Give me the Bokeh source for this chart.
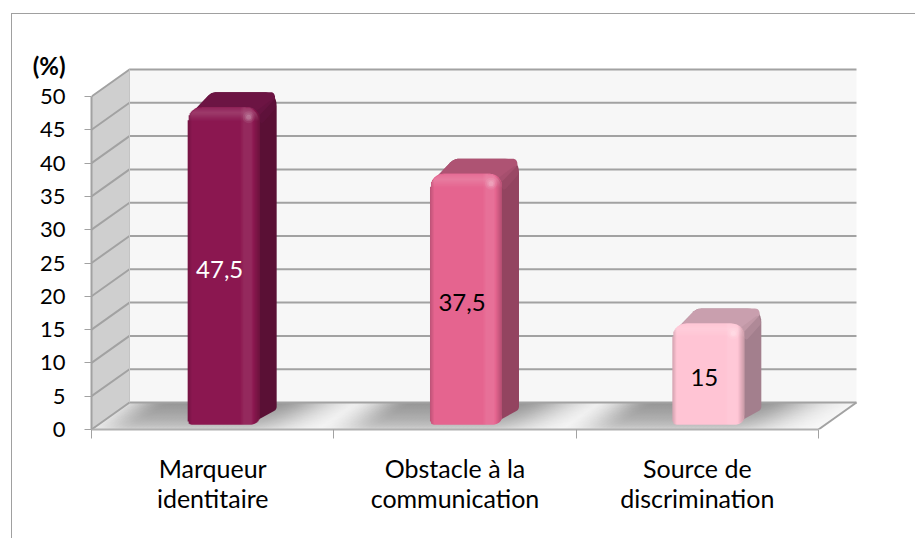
import math

from bokeh.core.properties import value
from bokeh.embed import file_html
from bokeh.models import FixedTicker, InlineStyleSheet, LinearAxis, Range1d
from bokeh.plotting import figure
from bokeh.resources import INLINE

# Survey shares per category
categories = ["Marqueur\nidentitaire", "Obstacle à la\ncommunication", "Source de\ndiscrimination"]
values = [47.5, 37.5, 15]
front_colors = ["#8c1850", "#e56490", "#ffc4d4"]
side_colors = ["#5a1035", "#934460", "#a37f8d"]
top_colors = ["#6c1443", "#ae5373", "#c99fae"]
label_colors = ["#ffffff", "#000000", "#000000"]
y_ticks = [0, 5, 10, 15, 20, 25, 30, 35, 40, 45, 50]
unit_caption = "(%)"

# Scale of the two axes and the pseudo-3D projection, in pixels
WIDTH, HEIGHT = 915, 538
LEFT, BASE = 91, 429
PX_X, PX_Y = 242.33, 6.66
DEPTH_X, DEPTH_Y = 38, 27
BAR_W = 72
FRONT_X, FRONT_Y = 11, 5
BACK_X, BACK_Y = 28, 20
FONT = "Lato"
GRID = "#a2a2a2"


def ox(px):
    return px / PX_X


def oy(px):
    return px / PX_Y


def hex_rgb(c):
    return tuple(int(c[i:i + 2], 16) for i in (1, 3, 5))


def shade(c, f):
    """Darken (f < 1) or lighten (f > 1) a hex colour."""
    r = hex_rgb(c)
    if f <= 1:
        out = [v * f for v in r]
    else:
        out = [v + (255 - v) * (f - 1) for v in r]
    return "#%02x%02x%02x" % tuple(int(round(v)) for v in out)


def rounded(points, radii):
    """Outline of a polygon in pixel offsets whose corners are rounded."""
    xs, ys = [], []
    n = len(points)
    for i, (px, py) in enumerate(points):
        ax, ay = points[i - 1]
        bx, by = points[(i + 1) % n]
        la, lb = math.hypot(ax - px, ay - py), math.hypot(bx - px, by - py)
        r = min(radii[i], la / 2, lb / 2)
        if r <= 0:
            xs.append(px)
            ys.append(py)
            continue
        s = (px + (ax - px) * r / la, py + (ay - py) * r / la)
        e = (px + (bx - px) * r / lb, py + (by - py) * r / lb)
        for k in range(9):
            t = k / 8
            xs.append((1 - t) ** 2 * s[0] + 2 * t * (1 - t) * px + t * t * e[0])
            ys.append((1 - t) ** 2 * s[1] + 2 * t * (1 - t) * py + t * t * e[1])
    return xs, ys


# Chart frame along the top and left, running off the page on the other two sides
frame_css = InlineStyleSheet(css=""":host::after { content: ""; position: absolute; left: 11px; top: 13px;
    right: 0; bottom: 0; border-left: 1.5px solid #a0a0a0; border-top: 1.5px solid #a0a0a0; pointer-events: none; }""")

p = figure(
    width=WIDTH, height=HEIGHT, output_backend="svg", toolbar_location=None,
    x_range=Range1d(0, ox(WIDTH - LEFT)), y_range=Range1d(0, oy(BASE)),
    min_border_left=LEFT, min_border_right=0, min_border_top=0, min_border_bottom=HEIGHT - BASE,
    x_axis_type=None, y_axis_type=None, outline_line_color=None, background_fill_color="#ffffff",
    stylesheets=[frame_css],
)
p.grid.visible = False

span_x = len(categories)
dx, dy = ox(DEPTH_X), oy(DEPTH_Y)

# Back wall, side wall and floor
p.quad(left=dx, right=span_x + dx, bottom=dy, top=y_ticks[-1] + dy, fill_color="#f7f7f7", line_color=None)
p.patch([0, dx, dx, 0], [0, dy, y_ticks[-1] + dy, y_ticks[-1]], fill_color="#cfcfcf", line_color=None)

# Soft shadows cast on the floor around the bars
rows, cells = 27, 182
sh_l, sh_r, sh_t, sh_b, sh_c = [], [], [], [], []
for r in range(rows):
    lift = r + 0.5
    for c in range(cells):
        u = c * 4 + 2
        strength = 0
        for i in range(len(categories)):
            centre = (i + 0.5) * PX_X
            if u < centre - 80:
                s = math.exp(-((centre - 80 - u) / 38) ** 2)
            elif u > centre + 25:
                s = math.exp(-((u - centre - 25) / 55) ** 2)
            else:
                s = 1
            strength = max(strength, s)
        strength *= 0.3 + 0.7 * (lift / rows) ** 0.5
        g = int(round(250 - 100 * strength))
        skew = lift * DEPTH_X / DEPTH_Y
        sh_l.append(ox(c * 4 + skew))
        sh_r.append(ox(c * 4 + 5.01 + skew))
        sh_b.append(oy(r))
        sh_t.append(oy(min(r + 2.01, rows)))
        sh_c.append("#%02x%02x%02x" % (g, g, g))
p.quad(left=sh_l, right=sh_r, top=sh_t, bottom=sh_b, fill_color=sh_c, line_color=None)
# The ends of the floor stay outside the parallelogram
p.patch([0, dx, 0], [0, dy, dy], fill_color="#cfcfcf", line_color=None)
p.patch([span_x, span_x + dx + 0.3, span_x + dx + 0.3, span_x + dx], [0, 0, dy, dy], fill_color="#ffffff", line_color=None)

# Grid lines on the two walls
for t in y_ticks:
    p.line([0, dx, span_x + dx], [t, t + dy, t + dy], line_color=GRID, line_width=2)
p.line([span_x, span_x + dx], [0, dy], line_color=GRID, line_width=2)
p.line([dx, dx], [dy, y_ticks[-1] + dy], line_color="#c4c4c4", line_width=1)

# Rounded bars: silhouette in the side colour, top face, then a front of 1 px columns
for i, v in enumerate(values):
    left_px = (i + 0.5) * PX_X - BAR_W / 2
    h = v * PX_Y
    x0, x1 = left_px + FRONT_X, left_px + FRONT_X + BAR_W
    bx1 = left_px + BACK_X + BAR_W
    yf0, yf1 = FRONT_Y, h + FRONT_Y + 1
    yb0, yb1 = BACK_Y, h + BACK_Y + 1

    sx, sy = rounded([(x0, yf1 - 10), (x0 + 24, yb1), (bx1, yb1), (bx1, yb0), (x1 - 10, yf0)], [8, 5, 14, 3, 3])
    p.patch([ox(a) for a in sx], [oy(a) for a in sy], fill_color=side_colors[i], line_color=None)

    tx, ty = rounded([(x0, yf1 - 10), (x0 + 24, yb1), (bx1 - 3, yb1), (bx1 - 1, yb1 - 6), (x1 - 2, yf1 - 10)], [8, 5, 11, 3, 4])
    p.patch([ox(a) for a in tx], [oy(a) for a in ty], fill_color=top_colors[i], line_color=None)

    # Soft transition between the top and the side
    gx, gy = rounded([(x1 - 6, yf1 - 6), (bx1 - 3, yb1 - 6), (bx1, yb1 - 15), (x1 + 2, yf1 - 17)], [3, 4, 3, 3])
    p.patch([ox(a) for a in gx], [oy(a) for a in gy], fill_color=shade(top_colors[i], 0.92), fill_alpha=0.55, line_color=None)

    q_l, q_r, q_t, q_b, q_c = [], [], [], [], []
    for u in range(BAR_W):
        if u < 4:
            f = 0.84 + 0.04 * u
        elif u < 52:
            f = 1.0
        elif u < 56:
            f = 1.0 + 0.02 * (u - 52)
        elif u < 63:
            f = 1.08
        elif u < 66:
            f = 1.08 - 0.035 * (u - 63)
        else:
            f = 0.97 - 0.035 * (u - 66)
        rt = 13
        corner_t = max(rt - u, u - (BAR_W - 1 - rt), 0)
        inset_t = rt - math.sqrt(max(rt * rt - corner_t * corner_t, 0))
        rb_l, rb_r = 3, 9
        if u < rb_l:
            inset_b = rb_l - math.sqrt(rb_l * rb_l - (rb_l - u) ** 2)
        elif u > BAR_W - 1 - rb_r:
            d = u - (BAR_W - 1 - rb_r)
            inset_b = rb_r - math.sqrt(max(rb_r * rb_r - d * d, 0))
        else:
            inset_b = 0
        q_l.append(ox(x0 + u))
        q_r.append(ox(min(x0 + u + 2.01, x1)))
        q_t.append(oy(yf1 - inset_t))
        q_b.append(oy(yf0 + inset_b))
        q_c.append(shade(front_colors[i], f))
    p.quad(left=q_l, right=q_r, top=q_t, bottom=q_b, fill_color=q_c, line_color=None)

    # Bevel along the top of the front face
    b_l, b_r, b_t, b_b, b_a = [], [], [], [], []
    for r in range(14):
        side = max(13 - r, 0)
        inset = 13 - math.sqrt(max(169 - side * side, 0))
        b_l.append(ox(x0 + inset + 1))
        b_r.append(ox(x1 - inset - 1))
        b_t.append(oy(yf1 - r))
        b_b.append(oy(yf1 - r - 1))
        b_a.append(0.16 * (1 - abs(r - 5) / 9))
    p.quad(left=b_l, right=b_r, top=b_t, bottom=b_b, fill_color="#ffffff", fill_alpha=b_a, line_color=None)

    # Specular spot in the top right corner of the front
    for size, alpha in [(12, 0.07), (8, 0.1), (5, 0.15)]:
        p.scatter([ox(x1 - 11)], [oy(yf1 - 10)], size=size, marker="circle",
                  fill_color="#ffffff", fill_alpha=alpha, line_color=None)

# Value labels inside the bars
p.text(
    x=[ox((i + 0.5) * PX_X + FRONT_X - 4) for i in range(len(values))],
    y=[v / 2 for v in values],
    text=[f"{v:g}".replace(".", ",") for v in values],
    y_offset=-2,
    text_color=label_colors, text_font=value(FONT), text_font_size="24px",
    text_align="center", text_baseline="middle",
)

# Value axis
y_axis = LinearAxis(
    ticker=FixedTicker(ticks=y_ticks), bounds=(y_ticks[0], y_ticks[-1]),
    axis_line_color=GRID, axis_line_width=2,
    major_tick_line_color=GRID, major_tick_line_width=1, major_tick_in=0, major_tick_out=7,
    minor_tick_line_color=None,
    major_label_text_font=FONT, major_label_text_font_size="22px", major_label_text_color="#000000",
    major_label_standoff=19,
)
p.add_layout(y_axis, "left")

# Unit caption, written as the single label of a second value axis
caption_at = oy(BASE - 65)
caption_axis = LinearAxis(
    ticker=FixedTicker(ticks=[caption_at]), axis_line_color=None,
    major_tick_line_color=None, major_tick_in=0, major_tick_out=0, minor_tick_line_color=None,
    major_label_overrides={caption_at: unit_caption}, major_label_text_font=FONT,
    major_label_text_font_size="24px", major_label_text_font_style="bold",
    major_label_text_color="#000000", major_label_standoff=-29,
)
p.add_layout(caption_axis, "left")

# Category axis: ticks between groups, names written on two lines
centres = [i + 0.5 for i in range(len(categories))]
edges = list(range(len(categories) + 1))
first = {c: n.split("\n")[0] for c, n in zip(centres, categories)}
second = {c: n.split("\n")[1] for c, n in zip(centres, categories)}
x_axis = LinearAxis(
    ticker=FixedTicker(ticks=centres, minor_ticks=edges), bounds=(0, span_x),
    axis_line_color="#b0b0b0", axis_line_width=2,
    major_tick_line_color=None, major_tick_in=0, major_tick_out=0,
    minor_tick_line_color=GRID, minor_tick_line_width=1, minor_tick_in=0, minor_tick_out=9,
    major_label_overrides=first, major_label_text_font=FONT, major_label_text_font_size="25px",
    major_label_text_color="#000000", major_label_standoff=14,
)
p.add_layout(x_axis, "below")
x_axis2 = LinearAxis(
    ticker=FixedTicker(ticks=centres), axis_line_color=None,
    major_tick_line_color=None, major_tick_in=0, major_tick_out=0, minor_tick_line_color=None,
    major_label_overrides=second, major_label_text_font=FONT, major_label_text_font_size="25px",
    major_label_text_color="#000000", major_label_standoff=-3,
)
p.add_layout(x_axis2, "below")

open("out.html", "w").write(file_html(p, INLINE))
